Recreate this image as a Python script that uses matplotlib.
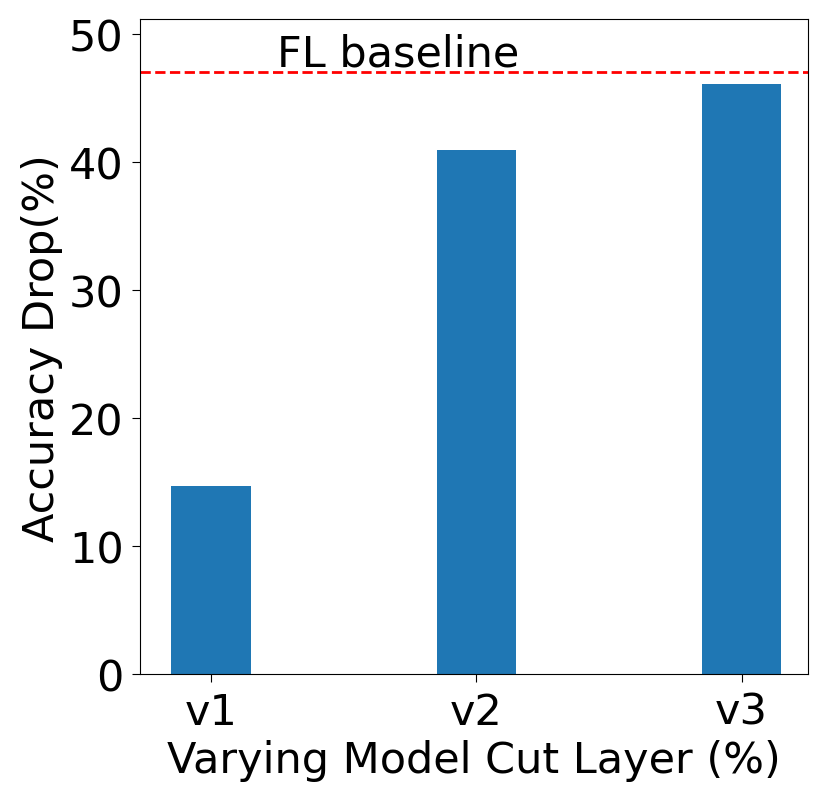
import matplotlib
matplotlib.use("Agg")
import matplotlib.pyplot as plt
import numpy as np

versions = ["v1", "v2", "v3"]
acc_drop = [14.7, 41.0, 46.1]
fl_baseline = 47.1

plt.rcParams["font.size"] = 31

fig, ax = plt.subplots(figsize=(8.3, 8.03), dpi=100)
x = np.arange(len(versions))
ax.bar(x, acc_drop, width=0.3, color="#1f77b4")
ax.axhline(fl_baseline, color="red", linestyle="--", linewidth=2)
ax.text(0.25, 47.6, "FL baseline")
ax.set_xticks(x)
ax.set_xticklabels(versions)
ax.set_xlim(-0.267, 2.249)
ax.set_ylim(0, 51.2)
ax.tick_params(length=6, pad=6)
ax.set_xlabel("Varying Model Cut Layer (%)")
ax.set_ylabel("Accuracy Drop(%)")
fig.subplots_adjust(left=0.169, right=0.973, top=0.975, bottom=0.159)
fig.savefig("out.png")
